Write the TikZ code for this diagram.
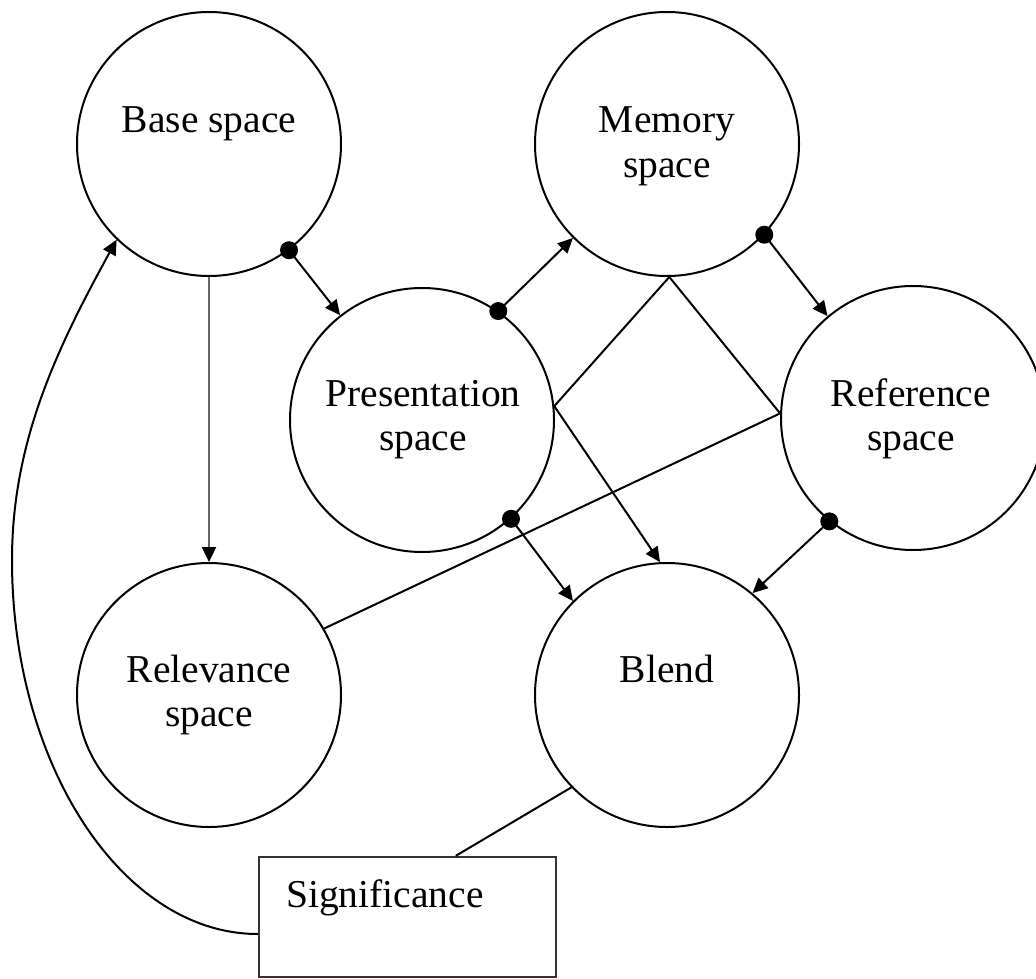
\documentclass[tikz,border=0pt]{standalone}
\usepackage{fontspec}
\setmainfont{Liberation Serif}
\usetikzlibrary{arrows.meta,calc}
\begin{document}
\begin{tikzpicture}[x=1pt,y=-1pt,
  space/.style={circle, draw, line width=2pt, minimum size=264pt, inner sep=0pt},
  caption/.style={font=\fontsize{39.5}{44}\selectfont, inner sep=0pt, anchor=base, align=center},
  link/.style={line width=2pt},
  mapsto/.style={link, -{Triangle[length=15pt,width=14pt,color=black]}},
  hub/.style={radius=9pt}
]
\useasboundingbox (0,0) rectangle (1036,979);
\clip (0,0) rectangle (1036,979);

% mental spaces
\node[space] (base)  at (209,144) {};
\node[space] (mem)   at (667,144) {};
\node[space] (pres)  at (422,420) {};
\node[space] (ref)   at (913,418) {};
\node[space] (rel)   at (209,695) {};
\node[space] (blend) at (667,695) {};
\node[draw, line width=2.4pt, draw=black!80, minimum width=297pt, minimum height=120pt, inner sep=0pt] (sig) at (407.5,917) {};

% labels (base anchor sits on the last line)
\node[caption] (base-t)  at (209,132) {Base space};
\node[caption] (mem-t)   at (667,177) {Memory\\space};
\node[caption] (pres-t)  at (423,450) {Presentation\\space};
\node[caption] (ref-t)   at (911,450) {Reference\\space};
\node[caption] (rel-t)   at (209,726) {Relevance\\space};
\node[caption] (blend-t) at (667,682) {Blend};
\node[caption, anchor=base west] (sig-t) at (286,907) {Significance};

% projections between spaces
\draw[mapsto, draw=black!60, line width=2.4pt] (base.south) -- (rel.north);
\draw[mapsto] (base.-53) -- (pres.128);
\draw[mapsto] (pres.55) -- (mem.-135);
\draw[mapsto] (mem.-43) -- (ref.130);
\draw[mapsto] (pres.-48) -- (blend.135);
\draw[mapsto] (ref.-129) -- (blend.50);

% cross-space links
\draw[link] (mem.-89) -- (pres.6);
\draw[link] (mem.-89) -- (ref.178);
\draw[mapsto] (pres.6) -- (blend.93);
\draw[link] (ref.178) -- (rel.30);
\draw[link] (blend.224) -- ([xshift=198pt]sig.north west);

% feedback from significance to the base space
\coordinate (sweep) at (12,560);
\draw[mapsto] ([yshift=-17pt]sig.west) .. controls (123,934) and (12,766) .. (sweep)
  .. controls (12,440) and (58.6,345.6) .. (base.-134);

% origin dots
\fill (base.-53) circle[hub];
\fill (pres.55) circle[hub];
\fill (mem.-43) circle[hub];
\fill (pres.-48) circle[hub];
\fill (ref.-129) circle[hub];
\end{tikzpicture}
\end{document}
